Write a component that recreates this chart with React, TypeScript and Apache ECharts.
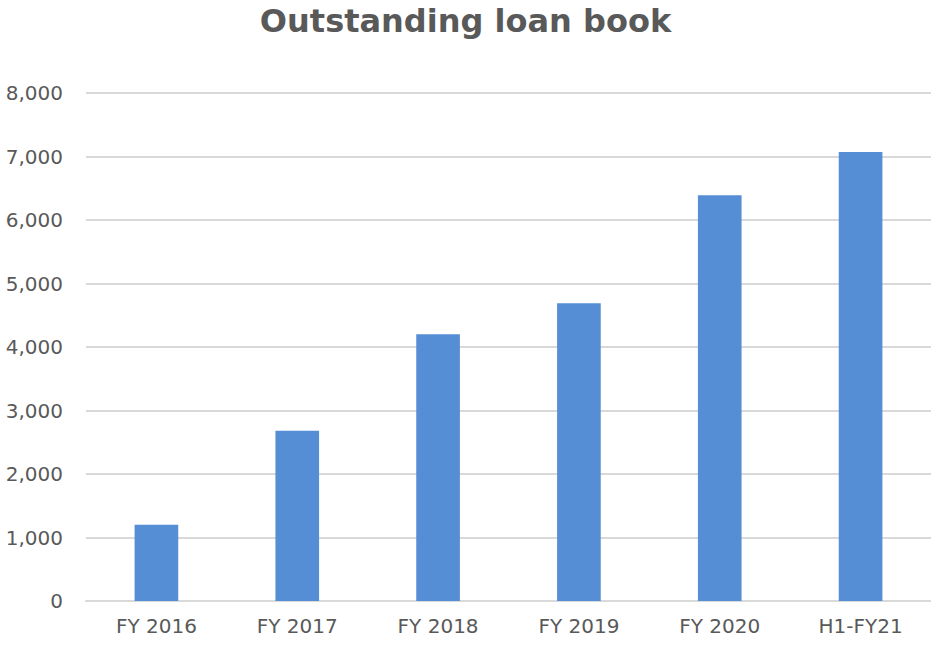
import React, { useEffect, useRef } from "react";
import * as echarts from "echarts";

const title = "Outstanding loan book";
const categories = ["FY 2016", "FY 2017", "FY 2018", "FY 2019", "FY 2020", "H1-FY21"];
const loanBook = [1200, 2680, 4200, 4690, 6390, 7070];
const yMin = 0;
const yMax = 8000;
const yStep = 1000;

export default function App() {
  const ref = useRef<HTMLDivElement>(null);
  useEffect(() => {
    if (!ref.current) return;
    const chart = echarts.init(ref.current, null, { renderer: "svg" });
    const font = "'DejaVu Sans', sans-serif";
    chart.setOption({
      animation: false,
      backgroundColor: "#ffffff",
      title: {
        text: title,
        left: "center",
        top: 0,
        textStyle: { fontFamily: font, fontWeight: "bold", fontSize: 32, color: "#595959" },
      },
      grid: { left: 86, right: 0, top: 93, bottom: 48, containLabel: false },
      xAxis: {
        type: "category",
        data: categories,
        axisLine: { show: true, lineStyle: { color: "#D9D9D9", width: 2 } },
        axisTick: { show: false },
        axisLabel: { fontFamily: font, fontSize: 20, color: "#595959", margin: 15 },
      },
      yAxis: {
        type: "value",
        min: yMin,
        max: yMax,
        interval: yStep,
        axisLine: { show: false },
        axisTick: { show: false },
        splitLine: { lineStyle: { color: "#D9D9D9", width: 2 } },
        axisLabel: {
          fontFamily: font,
          fontSize: 20,
          color: "#595959",
          margin: 23,
          formatter: (v: number) => v.toLocaleString("en-US"),
        },
      },
      series: [
        {
          type: "bar",
          data: loanBook,
          barWidth: "31%",
          itemStyle: { color: "#558ED5" },
        },
      ],
    });
    return () => chart.dispose();
  }, []);
  return (
    <div
      ref={ref}
      style={{ position: "absolute", left: 0, top: 0, width: 931, height: 649 }}
    />
  );
}
